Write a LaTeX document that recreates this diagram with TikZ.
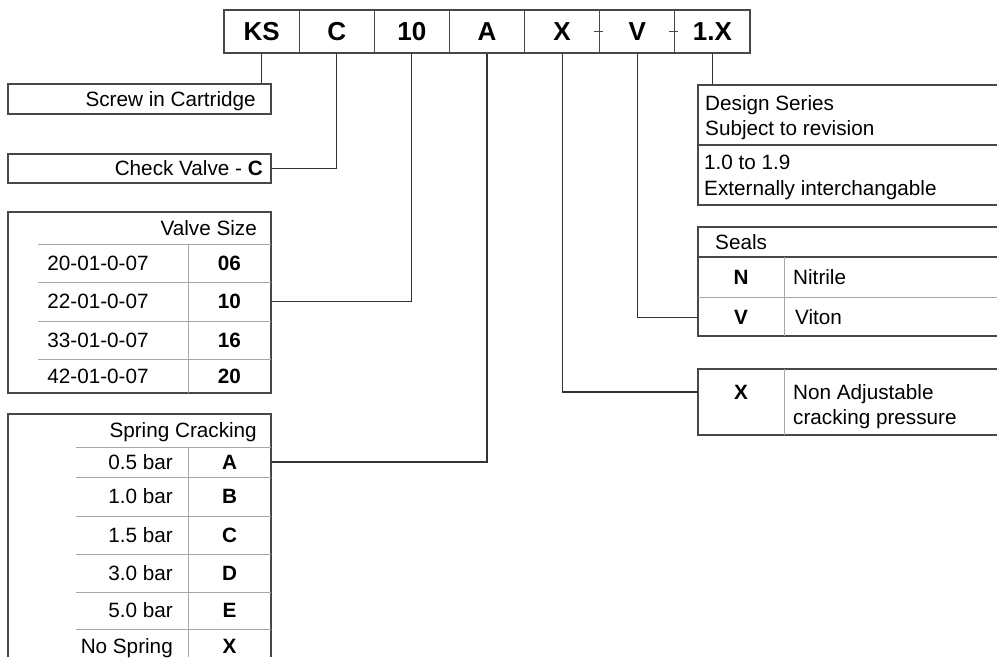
\documentclass[tikz,border=0pt]{standalone}
\usepackage{fontspec}
\setmainfont{Liberation Sans}
\begin{document}
\begin{tikzpicture}[x=1pt,y=-1pt,
  border/.style={draw=black!72, line width=1.1pt},
  thinline/.style={draw=black!35, line width=1pt},
  conn/.style={draw=black!80, line width=1.1pt},
  cell/.style={border, minimum width=75.14pt, minimum height=43pt, inner sep=0pt, text height=22.5pt, text depth=4pt, font=\bfseries\fontsize{26}{30}\selectfont},
  txt/.style={inner sep=0pt, text height=18.6pt, text depth=4pt, font=\fontsize{20.7}{24}\selectfont},
  btxt/.style={txt, font=\bfseries\fontsize{20.7}{24}\selectfont},
  keycell/.style={btxt, minimum width=83pt},
  rkeycell/.style={btxt, minimum width=86pt},
  boxnode/.style={border, inner sep=0pt, minimum width=263pt},
  ]
\useasboundingbox (0,0) rectangle (997,657);

% ---- code boxes
\foreach \n/\t [count=\i from 0] in {ks/KS, c/C, ten/10, a/A, x/X, v/V, onex/1.X}
  \node[cell] (\n) at (261.57+75.14*\i, 31.5) {\t};
\draw[border] ([xshift=-6pt]x.east) -- ([xshift=3pt]x.east);
\draw[border] ([xshift=-6pt]v.east) -- ([xshift=3pt]v.east);

% ---- left boxes
\node[boxnode, minimum height=30pt] (screw) at (139.5,99) {};
\node[txt, anchor=east] (screwt) at (256,99) {Screw in Cartridge};
\node[boxnode, minimum height=29pt] (check) at (139.5,168.5) {};
\node[txt, anchor=east] (checkt) at (263,168.5) {Check Valve - \textbf{C}};

% Valve size table
\draw[border] (8,212) rectangle (271,393);
\node[txt, anchor=east] (vsh) at (257,228) {Valve Size};
\foreach \yy in {244,282,321,359} \draw[thinline] (38,\yy) -- (271,\yy);
\draw[thinline] (188,244) -- (188,393);
\foreach \code/\sz/\yy [count=\i] in {20-01-0-07/06/263, 22-01-0-07/10/301.5, 33-01-0-07/16/340, 42-01-0-07/20/376} {
  \node[txt] (vs\i a) at (98,\yy) {\code};
  \node[keycell] (vs\i b) at (229.5,\yy) {\sz};
}

% Spring cracking table
\draw[border] (8,657) -- (8,414) -- (271,414) -- (271,657);
\node[txt, anchor=east] (sch) at (257,430) {Spring Cracking};
\foreach \yy in {447,477,516,554,592,629} \draw[thinline] (76,\yy) -- (271,\yy);
\draw[thinline] (188,447) -- (188,657);
\foreach \pr/\k/\yy [count=\i] in {0.5 bar/A/462, 1.0 bar/B/496.5, 1.5 bar/C/535, 3.0 bar/D/573, 5.0 bar/E/610.5, No Spring/X/646.5} {
  \node[txt, anchor=east] (sc\i a) at (173,\yy) {\pr};
  \node[keycell] (sc\i b) at (229.5,\yy) {\k};
}

% ---- right boxes
\draw[border] (997,85) -- (698,85) -- (698,205) -- (997,205);
\draw[border] (698,145) -- (997,145);
\coordinate (designtop) at (698,85);
\node[txt, anchor=west] (ds1) at (705,103) {Design Series};
\node[txt, anchor=west] (ds2) at (705,128) {Subject to revision};
\node[txt, anchor=west] (ds3) at (704,162) {1.0 to 1.9};
\node[txt, anchor=west] (ds4) at (704,188) {Externally interchangable};

\draw[border] (997,227) -- (698,227) -- (698,336) -- (997,336);
\draw[border] (698,257) -- (997,257);
\draw[thinline] (698,297) -- (997,297);
\draw[thinline] (784,257) -- (784,336);
\node[txt, anchor=west] (sealh) at (715,242) {Seals};
\node[rkeycell] (sn) at (741,277.5) {N};
\node[txt, anchor=west] (snt) at (793,277.5) {Nitrile};
\node[rkeycell] (sv) at (741,317.5) {V};
\node[txt, anchor=west] (svt) at (795,317.5) {Viton};

\draw[border] (997,369) -- (698,369) -- (698,435) -- (997,435);
\draw[thinline] (784,369) -- (784,435);
\node[rkeycell] (xk) at (741,392) {X};
\node[txt, anchor=west] (xt1) at (793,392) {Non Adjustable};
\node[txt, anchor=west] (xt2) at (793,417) {cracking pressure};

% ---- connectors
\draw[conn] (ks.south) -- (ks.south |- screw.north);
\draw[conn] (c.south) |- (check.east);
\draw[conn] (ten.south) |- (vs2b.east);
\draw[conn] (a.south) |- (sc1b.east);
\draw[conn] (x.south) |- (xk.west);
\draw[conn] (v.south) |- (sv.west);
\draw[conn] (onex.south) -- (onex.south |- designtop);
\end{tikzpicture}
\end{document}
